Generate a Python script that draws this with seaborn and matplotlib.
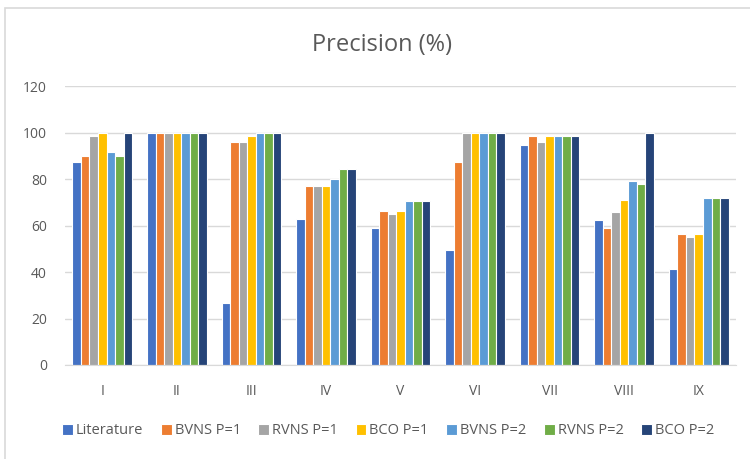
import matplotlib
matplotlib.use("Agg")
from matplotlib import pyplot as plt, patches
import seaborn as sns
import pandas as pd

categories = ["I", "II", "III", "IV", "V", "VI", "VII", "VIII", "IX"]
series_names = ["Literature", "BVNS P=1", "RVNS P=1", "BCO P=1",
                "BVNS P=2", "RVNS P=2", "BCO P=2"]

literature = [87.4, 100, 26.5, 62.9, 58.9, 49.4, 94.7, 62.4, 41.3]
bvns_p1 = [90.0, 100, 96.1, 77.1, 66.4, 87.4, 98.7, 58.9, 56.4]
rvns_p1 = [98.7, 100, 96.1, 77.1, 65.1, 100, 96.1, 65.8, 54.9]
bco_p1 = [100, 100, 98.7, 77.1, 66.4, 100, 98.7, 71.1, 56.4]
bvns_p2 = [91.4, 100, 100, 80.0, 70.4, 100, 98.7, 79.3, 71.8]
rvns_p2 = [90.0, 100, 100, 84.5, 70.4, 100, 98.7, 78.0, 71.8]
bco_p2 = [100, 100, 100, 84.5, 70.4, 100, 98.7, 100, 71.8]

colors = ["#4472C4", "#ED7D31", "#A5A5A5", "#FFC000", "#5B9BD5", "#70AD47", "#264478"]

rows = []
for name, vals in zip(series_names, [literature, bvns_p1, rvns_p1, bco_p1, bvns_p2, rvns_p2, bco_p2]):
	for cat, v in zip(categories, vals):
		rows.append([cat, v, name])
data = pd.DataFrame(rows, columns=["Case", "Precision", "Method"])

sns.set_style("white")
plt.rcParams['font.family'] = ['Open Sans', 'DejaVu Sans']
text_col = "#595959"

fig = plt.figure(figsize=(7.5, 4.59), dpi=100)
ax = fig.add_axes([65 / 750, 1 - 365 / 459, (736 - 65) / 750, (365 - 86) / 459])

sns.barplot(data=data, x="Case", y="Precision", hue="Method", palette=colors,
	saturation=1, width=0.8, edgecolor="white", linewidth=0.8, ax=ax)

ax.set_ylim(0, 120)
ax.set_yticks(range(0, 121, 20))
ax.grid(axis="y", color="#D9D9D9", linewidth=1)
ax.set_axisbelow(True)
for s in ["top", "right", "left"]:
	ax.spines[s].set_visible(False)
ax.spines["bottom"].set_color("#D9D9D9")
ax.set_xlabel("")
ax.set_ylabel("")
ax.tick_params(axis="both", length=0, labelsize=10, colors=text_col)
ax.tick_params(axis="x", pad=14)
ax.tick_params(axis="y", pad=13)

handles, labels = ax.get_legend_handles_labels()
ax.legend_.remove()
fig.legend(handles, labels, loc="center", bbox_to_anchor=(388 / 750, 1 - 431 / 459),
	ncol=7, frameon=False, fontsize=10.5, labelcolor=text_col,
	handlelength=0.75, handleheight=0.75, handletextpad=0.2, columnspacing=1.2)

fig.text(382 / 750, 1 - 45 / 459, "Precision (%)", ha="center", va="center",
	fontsize=17, color=text_col)

fig.patches.append(patches.Rectangle((5 / 750, -0.1), 1.1, 1 - 8 / 459 + 0.1,
	transform=fig.transFigure, fill=False, edgecolor="#D9D9D9", linewidth=1.2))

plt.savefig("out.png", dpi=100)
plt.close()
